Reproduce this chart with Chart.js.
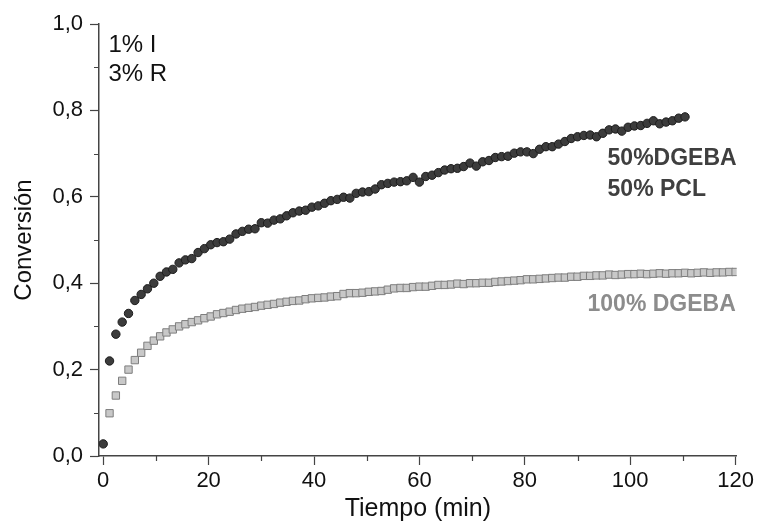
<!DOCTYPE html>
<html>
<head>
<meta charset="utf-8">
<script src="https://cdn.jsdelivr.net/npm/chart.js@4.4.0/dist/chart.umd.min.js"></script>
<style>
    html, body { margin: 0; padding: 0; background: #fff; }
    #wrap { width: 757px; height: 524px; }
</style>
</head>
<body>
<div id="wrap"><canvas id="convChart" width="757" height="524"></canvas></div>
<script>
// 50% DGEBA / 50% PCL (circles)
const timePcl = [
    0, 1.2, 2.4, 3.6, 4.8, 6, 7.2, 8.4, 9.6, 10.8,
    12, 13.2, 14.4, 15.6, 16.8, 18, 19.2, 20.4, 21.6, 22.8,
    24, 25.2, 26.4, 27.6, 28.8, 30, 31.2, 32.4, 33.6, 34.8,
    36, 37.2, 38.4, 39.6, 40.8, 42, 43.2, 44.4, 45.6, 46.8,
    48, 49.2, 50.4, 51.6, 52.8, 54, 55.2, 56.4, 57.6, 58.8,
    60, 61.2, 62.4, 63.6, 64.8, 66, 67.2, 68.4, 69.6, 70.8,
    72, 73.2, 74.4, 75.6, 76.8, 78, 79.2, 80.4, 81.6, 82.8,
    84, 85.2, 86.4, 87.6, 88.8, 90, 91.2, 92.4, 93.6, 94.8,
    96, 97.2, 98.4, 99.6, 100.8, 102, 103.2, 104.4, 105.6, 106.8,
    108, 109.2, 110.4
];
const convPcl = [
    0.028, 0.220, 0.282, 0.310, 0.330, 0.360, 0.374, 0.387, 0.400, 0.416,
    0.426, 0.432, 0.447, 0.454, 0.457, 0.471, 0.480, 0.489, 0.494, 0.496,
    0.502, 0.514, 0.520, 0.525, 0.526, 0.540, 0.539, 0.546, 0.549, 0.556,
    0.563, 0.567, 0.569, 0.576, 0.579, 0.585, 0.591, 0.594, 0.599, 0.597,
    0.608, 0.611, 0.612, 0.618, 0.628, 0.631, 0.634, 0.635, 0.637, 0.645,
    0.634, 0.647, 0.650, 0.656, 0.662, 0.665, 0.666, 0.670, 0.678, 0.671,
    0.681, 0.684, 0.691, 0.693, 0.694, 0.701, 0.704, 0.704, 0.700, 0.710,
    0.716, 0.716, 0.722, 0.728, 0.735, 0.739, 0.742, 0.743, 0.739, 0.747,
    0.755, 0.757, 0.752, 0.761, 0.764, 0.765, 0.770, 0.776, 0.769, 0.773,
    0.776, 0.782, 0.785
];

// 100% DGEBA (squares)
const timeDgeba = [
    1.2, 2.4, 3.6, 4.8, 6, 7.2, 8.4, 9.6, 10.8,
    12, 13.2, 14.4, 15.6, 16.8, 18, 19.2, 20.4, 21.6, 22.8,
    24, 25.2, 26.4, 27.6, 28.8, 30, 31.2, 32.4, 33.6, 34.8,
    36, 37.2, 38.4, 39.6, 40.8, 42, 43.2, 44.4, 45.6, 46.8,
    48, 49.2, 50.4, 51.6, 52.8, 54, 55.2, 56.4, 57.6, 58.8,
    60, 61.2, 62.4, 63.6, 64.8, 66, 67.2, 68.4, 69.6, 70.8,
    72, 73.2, 74.4, 75.6, 76.8, 78, 79.2, 80.4, 81.6, 82.8,
    84, 85.2, 86.4, 87.6, 88.8, 90, 91.2, 92.4, 93.6, 94.8,
    96, 97.2, 98.4, 99.6, 100.8, 102, 103.2, 104.4, 105.6, 106.8,
    108, 109.2, 110.4, 111.6, 112.8, 114, 115.2, 116.4, 117.6, 118.8,
    120
];
const convDgeba = [
    0.099, 0.140, 0.174, 0.200, 0.222, 0.239, 0.255, 0.267, 0.277,
    0.286, 0.293, 0.300, 0.305, 0.310, 0.314, 0.319, 0.323, 0.328, 0.331,
    0.334, 0.338, 0.341, 0.343, 0.345, 0.348, 0.350, 0.352, 0.355, 0.357,
    0.359, 0.360, 0.363, 0.365, 0.366, 0.367, 0.369, 0.370, 0.375, 0.377,
    0.377, 0.378, 0.380, 0.381, 0.382, 0.385, 0.388, 0.389, 0.389, 0.391,
    0.392, 0.392, 0.394, 0.396, 0.396, 0.397, 0.399, 0.398, 0.400, 0.400,
    0.401, 0.401, 0.403, 0.404, 0.405, 0.406, 0.407, 0.409, 0.409, 0.410,
    0.411, 0.412, 0.413, 0.413, 0.415, 0.415, 0.417, 0.417, 0.418, 0.418,
    0.420, 0.419, 0.420, 0.421, 0.421, 0.422, 0.421, 0.422, 0.423, 0.422,
    0.423, 0.423, 0.424, 0.423, 0.424, 0.425, 0.424, 0.425, 0.425, 0.426,
    0.426
];

const xTickLabels = ['0', '20', '40', '60', '80', '100', '120'];
const yTickLabels = ['0,0', '0,2', '0,4', '0,6', '0,8', '1,0'];
const xMinorTicks = [10, 30, 50, 70, 90, 110];
const yMinorTicks = [0.1, 0.3, 0.5, 0.7, 0.9];

// text notes placed in data coordinates
const noteFont = '24px "Liberation Sans", Arial, sans-serif';
const noteBold = 'bold 23px "Liberation Sans", Arial, sans-serif';
const notes = [
    { text: '1% I', x: 1.0, y: 0.950, font: noteFont, color: '#111' },
    { text: '3% R', x: 1.0, y: 0.884, font: noteFont, color: '#111' },
    { text: '50%DGEBA', x: 95.7, y: 0.689, font: noteBold, color: '#3f3f3f' },
    { text: '50% PCL', x: 95.7, y: 0.616, font: noteBold, color: '#3f3f3f' },
    { text: '100% DGEBA', x: 91.9, y: 0.350, font: noteBold, color: '#8c8c8c' }
];

const toPoints = (xs, ys) => xs.map((x, i) => ({ x: x, y: ys[i] }));

const notesPlugin = {
    id: 'notes',
    afterDatasetsDraw(chart) {
        const ctx = chart.ctx;
        const xs = chart.scales.x, ys = chart.scales.y;
        ctx.save();

        // minor ticks, outside the axes
        ctx.strokeStyle = '#444';
        ctx.lineWidth = 1.2;
        ctx.beginPath();
        xMinorTicks.forEach(v => {
            const px = Math.round(xs.getPixelForValue(v)) + 0.5;
            ctx.moveTo(px, ys.bottom);
            ctx.lineTo(px, ys.bottom + 5);
        });
        yMinorTicks.forEach(v => {
            const py = Math.round(ys.getPixelForValue(v)) + 0.5;
            ctx.moveTo(xs.left, py);
            ctx.lineTo(xs.left - 5, py);
        });
        ctx.stroke();

        ctx.textAlign = 'left';
        ctx.textBaseline = 'middle';
        notes.forEach(n => {
            ctx.font = n.font;
            ctx.fillStyle = n.color;
            ctx.fillText(n.text, xs.getPixelForValue(n.x), ys.getPixelForValue(n.y));
        });
        ctx.restore();
    }
};

const tickFont = { family: '"Liberation Sans", Arial, sans-serif', size: 22 };

new Chart(document.getElementById('convChart'), {
    type: 'scatter',
    data: {
        datasets: [
            {
                label: '100% DGEBA',
                data: toPoints(timeDgeba, convDgeba),
                pointStyle: 'rect',
                pointRadius: 5.2,
                backgroundColor: '#c8c8c8',
                borderColor: '#7e7e7e',
                borderWidth: 1
            },
            {
                label: '50%DGEBA 50% PCL',
                data: toPoints(timePcl, convPcl),
                pointStyle: 'circle',
                pointRadius: 4.2,
                backgroundColor: '#3c3c3c',
                borderColor: '#1c1c1c',
                borderWidth: 1
            }
        ]
    },
    options: {
        responsive: false,
        animation: false,
        layout: { padding: { left: 0, top: 24, right: 20, bottom: 0 } },
        plugins: {
            legend: { display: false },
            tooltip: { enabled: false }
        },
        scales: {
            x: {
                type: 'linear',
                min: -0.8,
                max: 120.2,
                afterFit: (s) => { s.height = 68; },
                border: { color: '#444', width: 1.5 },
                grid: { drawOnChartArea: false, tickLength: 9, color: '#444', tickWidth: 1.2 },
                ticks: {
                    stepSize: 20,
                    includeBounds: false,
                    autoSkip: false,
                    maxRotation: 0,
                    color: '#111',
                    font: tickFont,
                    padding: 3,
                    callback: (v, i) => xTickLabels[i]
                },
                title: {
                    display: true, text: 'Tiempo (min)', color: '#111',
                    font: { family: '"Liberation Sans", Arial, sans-serif', size: 25 },
                    padding: { top: 0, bottom: 0 }
                }
            },
            y: {
                min: 0,
                max: 1.0,
                afterFit: (s) => { s.width = 99; },
                border: { color: '#444', width: 1.5 },
                grid: { drawOnChartArea: false, tickLength: 9, color: '#444', tickWidth: 1.2 },
                ticks: {
                    stepSize: 0.2,
                    autoSkip: false,
                    color: '#111',
                    font: tickFont,
                    padding: 7,
                    callback: (v, i) => yTickLabels[i]
                },
                title: {
                    display: true, text: 'Conversión', color: '#111',
                    font: { family: '"Liberation Sans", Arial, sans-serif', size: 24 },
                    padding: { top: 10, bottom: 0 }
                }
            }
        }
    },
    plugins: [notesPlugin]
});
</script>
</body>
</html>
